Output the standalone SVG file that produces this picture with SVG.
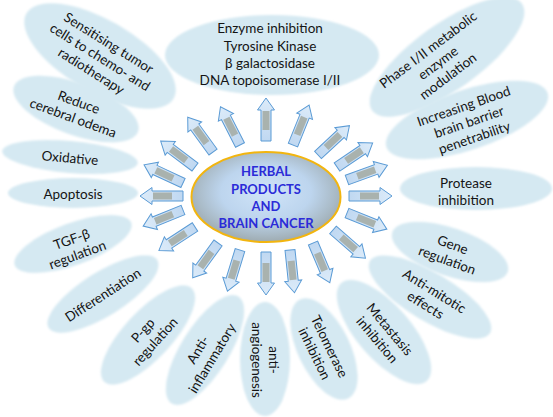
<svg xmlns="http://www.w3.org/2000/svg" xmlns:xlink="http://www.w3.org/1999/xlink" width="553" height="417" viewBox="0 0 553 417">
<style>
.petal{fill:#d5e9f2;filter:url(#soft)}
.t{font-family:Lato,"Liberation Sans",sans-serif;font-size:13.5px;fill:#141414;text-anchor:middle}
.c{font-family:Lato,"Liberation Sans",sans-serif;font-size:13px;font-weight:bold;fill:#2b2bd8;text-anchor:middle}
</style>
<defs>
<filter id="soft" x="-10%" y="-10%" width="120%" height="120%"><feGaussianBlur stdDeviation="1"/></filter>
<linearGradient id="ag" gradientUnits="userSpaceOnUse" x1="0" y1="0" x2="0" y2="-43">
<stop offset="0" stop-color="#c0d8f1"/><stop offset="1" stop-color="#dcebf9"/>
</linearGradient>
<radialGradient id="cg" cx="50%" cy="45%" r="55%">
<stop offset="0" stop-color="#d0e4f8"/><stop offset="0.55" stop-color="#bdd5ee"/><stop offset="0.85" stop-color="#a9bac6"/><stop offset="1" stop-color="#9eabb1"/>
</radialGradient>
<g id="arw">
<path d="M-5,0 V-31 H-8.5 L0,-43 L8.5,-31 H5 V0 Z" fill="url(#ag)" stroke="#5b9bd5" stroke-width="1"/>
<rect x="-3.5" y="-30" width="7" height="19" fill="#a9b2ae"/>
</g>
</defs>
<rect width="553" height="417" fill="#ffffff"/>

<g id="p-sensitising">
<ellipse class="petal" rx="85" ry="36" transform="translate(100,56) rotate(30)"/>
<g transform="translate(100,57) rotate(32)"><text class="t" y="-11.8">Sensitising tumor</text><text class="t" y="4.7">cells to chemo- and</text><text class="t" y="21.2">radiotherapy</text></g>
</g>
<g id="p-odema">
<ellipse class="petal" rx="66" ry="26" transform="translate(76,109) rotate(20)"/>
<g transform="translate(76,110) rotate(20)"><text class="t" y="-3.5">Reduce</text><text class="t" y="13">cerebral odema</text></g>
</g>
<g id="p-oxidative">
<ellipse class="petal" rx="68" ry="16" transform="translate(70,157) rotate(5)"/>
<g transform="translate(70,158) rotate(5)"><text class="t" y="4.7">Oxidative</text></g>
</g>
<g id="p-apoptosis">
<ellipse class="petal" cx="73" cy="193" rx="65" ry="15"/>
<text class="t" x="73" y="199">Apoptosis</text>
</g>
<g id="p-tgf">
<ellipse class="petal" rx="62" ry="21" transform="translate(73,244) rotate(-20)"/>
<g transform="translate(74.5,247) rotate(-20)"><text class="t" y="-3.5">TGF-β</text><text class="t" y="13">regulation</text></g>
</g>
<g id="p-differentiation">
<ellipse class="petal" rx="64" ry="22" transform="translate(103,294) rotate(-32)"/>
<g transform="translate(103,295) rotate(-33)"><text class="t" y="4.7">Differentiation</text></g>
</g>
<g id="p-pgp">
<ellipse class="petal" rx="64" ry="24" transform="translate(148,335) rotate(-47)"/>
<g transform="translate(149,336) rotate(-48)"><text class="t" y="-3.5">P-gp</text><text class="t" y="13">regulation</text></g>
</g>
<g id="p-antiinflammatory">
<ellipse class="petal" rx="63" ry="24" transform="translate(205,350) rotate(-58)"/>
<g transform="translate(205,354) rotate(-59)"><text class="t" y="-3.5">Anti-</text><text class="t" y="13">inflammatory</text></g>
</g>
<g id="p-angiogenesis">
<ellipse class="petal" rx="57" ry="25" transform="translate(265,359) rotate(90)"/>
<g transform="translate(265,360) rotate(90)"><text class="t" y="-3.5">anti-</text><text class="t" y="13">angiogenesis</text></g>
</g>
<g id="p-telomerase">
<ellipse class="petal" rx="55" ry="26" transform="translate(324,349) rotate(64)"/>
<g transform="translate(322,350) rotate(64)"><text class="t" y="-3.5">Telomerase</text><text class="t" y="13">inhibition</text></g>
</g>
<g id="p-metastasis">
<ellipse class="petal" rx="65" ry="27" transform="translate(384,332) rotate(49)"/>
<g transform="translate(383.5,334.5) rotate(50)"><text class="t" y="-3.5">Metastasis</text><text class="t" y="13">inhibition</text></g>
</g>
<g id="p-antimitotic">
<ellipse class="petal" rx="70" ry="24" transform="translate(430,297) rotate(31)"/>
<g transform="translate(430,298) rotate(32)"><text class="t" y="-3.5">Anti-mitotic</text><text class="t" y="13">effects</text></g>
</g>
<g id="p-gene">
<ellipse class="petal" rx="61" ry="24" transform="translate(450,252) rotate(19)"/>
<g transform="translate(450,252.5) rotate(20)"><text class="t" y="-3.5">Gene</text><text class="t" y="13">regulation</text></g>
</g>
<g id="p-protease">
<ellipse class="petal" cx="476" cy="188.5" rx="76" ry="21.5"/>
<text class="t" x="466" y="188">Protease</text><text class="t" x="466" y="205">inhibition</text>
</g>
<g id="p-bbb">
<ellipse class="petal" rx="85" ry="30" transform="translate(467,120) rotate(-18.5)"/>
<g transform="translate(469,122) rotate(-19)"><text class="t" y="-11.8">Increasing Blood</text><text class="t" y="4.7">brain barrier</text><text class="t" y="21.2">penetrability</text></g>
</g>
<g id="p-phase">
<ellipse class="petal" rx="92" ry="33" transform="translate(447,57) rotate(-35.5)"/>
<g transform="translate(438,63) rotate(-37)"><text class="t" y="-11.8">Phase I/II metabolic</text><text class="t" y="4.7">enzyme</text><text class="t" y="21.2">modulation</text></g>
</g>
<g id="p-enzyme">
<ellipse class="petal" cx="272" cy="55" rx="107" ry="40"/>
<text class="t" x="270" y="33">Enzyme inhibition</text>
<text class="t" x="270" y="50.5">Tyrosine Kinase</text>
<text class="t" x="270" y="68">β galactosidase</text>
<text class="t" x="270" y="85">DNA topoisomerase I/II</text>
</g>

<g id="connectors">
<use xlink:href="#arw" href="#arw" transform="translate(266,141) rotate(0)"/>
<use xlink:href="#arw" href="#arw" transform="translate(293,145) rotate(22)"/>
<use xlink:href="#arw" href="#arw" transform="translate(318,155) rotate(47)"/>
<use xlink:href="#arw" href="#arw" transform="translate(337,167) rotate(56)"/>
<use xlink:href="#arw" href="#arw" transform="translate(347,180) rotate(70)"/>
<use xlink:href="#arw" href="#arw" transform="translate(349,196) rotate(90)"/>
<use xlink:href="#arw" href="#arw" transform="translate(347,213) rotate(112)"/>
<use xlink:href="#arw" href="#arw" transform="translate(333,230) rotate(131)"/>
<use xlink:href="#arw" href="#arw" transform="translate(313,243) rotate(157)"/>
<use xlink:href="#arw" href="#arw" transform="translate(290,250) rotate(174)"/>
<use xlink:href="#arw" href="#arw" transform="translate(266,252) rotate(180)"/>
<use xlink:href="#arw" href="#arw" transform="translate(240,250) rotate(197)"/>
<use xlink:href="#arw" href="#arw" transform="translate(218,243) rotate(216)"/>
<use xlink:href="#arw" href="#arw" transform="translate(195,227) rotate(237)"/>
<use xlink:href="#arw" href="#arw" transform="translate(183,210) rotate(248)"/>
<use xlink:href="#arw" href="#arw" transform="translate(183,196) rotate(270)"/>
<use xlink:href="#arw" href="#arw" transform="translate(183,183) rotate(295)"/>
<use xlink:href="#arw" href="#arw" transform="translate(195,167) rotate(307)"/>
<use xlink:href="#arw" href="#arw" transform="translate(213,152) rotate(324)"/>
<use xlink:href="#arw" href="#arw" transform="translate(240,145) rotate(333)"/>
</g>

<g id="center">
<ellipse cx="266" cy="197" rx="74.5" ry="45" fill="url(#cg)" stroke="#f2b50f" stroke-width="2"/>
<text class="c" x="266" y="176">HERBAL</text>
<text class="c" x="266" y="194">PRODUCTS</text>
<text class="c" x="266" y="211">AND</text>
<text class="c" x="266" y="228">BRAIN CANCER</text>
</g>
</svg>
